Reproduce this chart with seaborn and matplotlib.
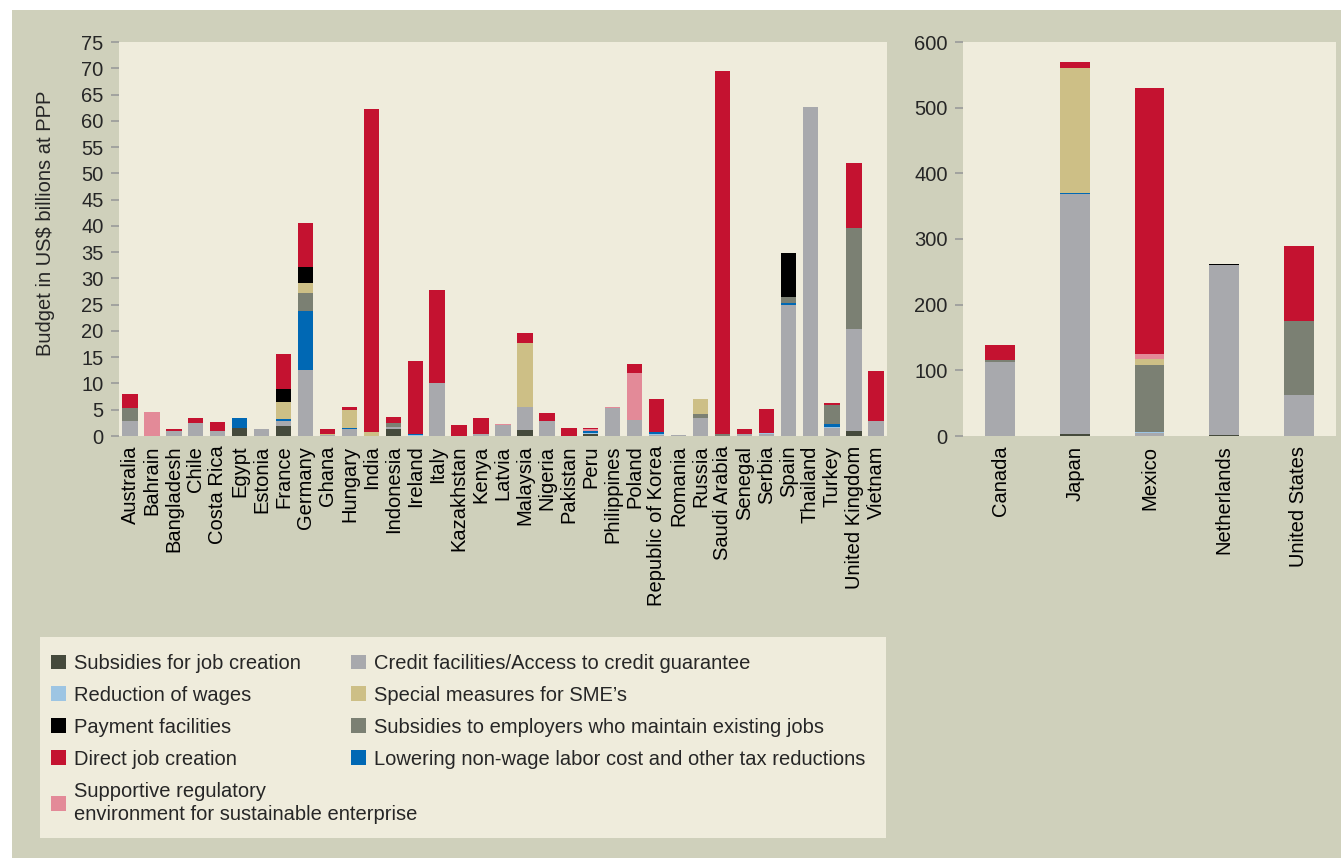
import numpy as np
import matplotlib
matplotlib.use("Agg")
import matplotlib.pyplot as plt
from matplotlib.patches import Patch, Rectangle
import seaborn as sns

# Data: left panel (US$ billions at PPP)
countries = ["Australia", "Bahrain", "Bangladesh", "Chile", "Costa Rica", "Egypt", "Estonia",
             "France", "Germany", "Ghana", "Hungary", "India", "Indonesia", "Ireland", "Italy",
             "Kazakhstan", "Kenya", "Latvia", "Malaysia", "Nigeria", "Pakistan", "Peru",
             "Philippines", "Poland", "Republic of Korea", "Romania", "Russia", "Saudi Arabia",
             "Senegal", "Serbia", "Spain", "Thailand", "Turkey", "United Kingdom", "Vietnam"]

job_subsidies = [0, 0, 0, 0, 0, 1.6, 0, 1.9, 0, 0, 0, 0, 1.4, 0, 0, 0, 0, 0, 1.1, 0, 0, 0.3,
                 0, 0, 0, 0, 0, 0, 0, 0, 0, 0, 0, 1.0, 0]
credit = [2.9, 0, 0.9, 2.5, 0.9, 0, 1.3, 1.0, 12.6, 0.2, 1.4, 0, 0.4, 0, 10.1, 0, 0.4, 2.1, 4.4,
          2.8, 0, 0.1, 5.4, 3.0, 0.2, 0.1, 3.4, 0, 0.3, 0.3, 24.9, 62.7, 1.5, 19.4, 2.9]
wages = [0, 0, 0, 0, 0, 0, 0, 0, 0, 0, 0, 0, 0, 0.2, 0, 0, 0, 0, 0, 0, 0, 0.2,
         0, 0.1, 0.2, 0, 0, 0, 0, 0.2, 0, 0, 0.2, 0, 0]
lowering = [0, 0, 0, 0, 0, 1.8, 0, 0.3, 11.1, 0, 0.2, 0, 0, 0.2, 0, 0, 0, 0, 0, 0, 0, 0.3,
            0, 0, 0.4, 0, 0, 0, 0, 0, 0.5, 0, 0.6, 0, 0]
maintain = [2.4, 0, 0, 0, 0, 0, 0, 0, 3.6, 0, 0, 0, 0.6, 0, 0, 0, 0, 0, 0, 0, 0, 0,
            0, 0, 0, 0, 0.8, 0.3, 0, 0, 1.1, 0, 3.6, 19.1, 0]
sme = [0, 0, 0, 0, 0, 0, 0, 3.3, 1.8, 0.2, 3.3, 0.8, 0, 0, 0, 0, 0, 0, 12.2, 0, 0, 0,
       0, 0, 0, 0, 2.9, 0, 0, 0, 0, 0, 0, 0, 0]
payment = [0, 0, 0, 0, 0, 0, 0, 2.5, 3.0, 0, 0, 0, 0, 0, 0, 0, 0, 0, 0, 0, 0, 0,
           0, 0, 0, 0, 0, 0, 0, 0, 8.3, 0, 0, 0, 0]
supportive = [0, 4.5, 0, 0, 0, 0, 0.1, 0, 0, 0, 0, 0, 0, 0, 0, 0, 0, 0.2, 0, 0, 0, 0.4,
              0.1, 8.9, 0, 0, 0, 0, 0, 0, 0, 0, 0, 0, 0]
direct = [2.6, 0, 0.4, 0.9, 1.7, 0, 0, 6.6, 8.4, 1.0, 0.7, 61.5, 1.3, 13.8, 17.6, 2.1, 3.0, 0,
          2.0, 1.5, 1.6, 0.3, 0, 1.8, 6.2, 0, 0, 69.2, 1.0, 4.7, 0.1, 0, 0.3, 12.4, 9.5]

# Data: right panel
countries2 = ["Canada", "Japan", "Mexico", "Netherlands", "United States"]
job_subsidies2 = [0, 3, 0, 1, 0]
credit2 = [113, 365, 4, 259, 62]
wages2 = [0, 0, 2.5, 0, 0]
lowering2 = [0, 2, 0, 0, 0]
maintain2 = [3, 0, 102, 0, 113]
sme2 = [0, 190, 8, 0, 0]
payment2 = [0, 0, 0, 1.5, 0]
supportive2 = [0, 0, 8, 0, 0]
direct2 = [23, 9, 406, 0, 115]

names = ["Subsidies for job creation", "Credit facilities/Access to credit guarantee",
         "Reduction of wages", "Lowering non-wage labor cost and other tax reductions",
         "Subsidies to employers who maintain existing jobs", "Special measures for SME\u2019s",
         "Payment facilities", "Supportive regulatory\nenvironment for sustainable enterprise",
         "Direct job creation"]
colors = ["#454a3c", "#a8a9ad", "#9dc5e3", "#0068b4", "#7b8073", "#cdbf86",
          "#000000", "#e38a98", "#c41230"]

left_layers = [job_subsidies, credit, wages, lowering, maintain, sme, payment, supportive, direct]
right_layers = [job_subsidies2, credit2, wages2, lowering2, maintain2, sme2, payment2,
                supportive2, direct2]

sns.set_theme(style="white")
plt.rcParams["font.family"] = ["Liberation Sans", "DejaVu Sans"]

fig_bg = "#cfd0bb"
plot_bg = "#efecdc"
tick_col = "#9a9a9a"
fs = 14.5

fig = plt.figure(figsize=(13.41, 8.58), dpi=100)
fig.patch.set_facecolor("white")
fig.patches.append(Rectangle((12 / 1341, 0), 1, 1 - 10 / 858, transform=fig.transFigure,
                             facecolor=fig_bg, edgecolor="none", zorder=-10))

W, H = 1341, 858
ax1 = fig.add_axes([119 / W, 1 - 436 / H, (887 - 119) / W, (436 - 42) / H])
ax2 = fig.add_axes([963 / W, 1 - 436 / H, (1336 - 963) / W, (436 - 42) / H])


def stack(ax, cats, layers, width):
    bottom = np.zeros(len(cats))
    for vals, col in zip(layers, colors):
        sns.barplot(x=cats, y=vals, order=cats, color=col, width=width, bottom=bottom,
                    errorbar=None, linewidth=0, saturation=1, ax=ax)
        bottom = bottom + np.array(vals)


stack(ax1, countries, left_layers, 0.7)
stack(ax2, countries2, right_layers, 0.4)

for ax, cats, top, step in [(ax1, countries, 75, 5), (ax2, countries2, 600, 100)]:
    ax.set_facecolor(plot_bg)
    for s in ax.spines.values():
        s.set_visible(False)
    ax.set_xlim(-0.5, len(cats) - 0.5)
    ax.set_ylim(0, top)
    ax.set_yticks(np.arange(0, top + 1, step))
    ax.set_xticks(np.arange(len(cats)))
    ax.set_xticklabels(cats, rotation=90)
    ax.set_xticks(np.arange(-0.5, len(cats)), minor=True)
    ax.tick_params(axis="x", which="major", length=0, pad=7, labelsize=fs, colors="black")
    ax.tick_params(axis="x", which="minor", length=7, width=1.2, color=tick_col, direction="out")
    ax.tick_params(axis="y", length=6, width=1.2, color=tick_col, pad=5, labelsize=fs,
                   left=True, direction="out")
    ax.set_xlabel("")

ax1.set_ylabel(r"Budget in US\$ billions at PPP", fontsize=fs)
ax1.yaxis.set_label_coords(-0.083, 0.54)

# legend panel
fig.patches.append(Rectangle((40 / W, 1 - 838 / H), 846 / W, 201 / H, transform=fig.transFigure,
                             facecolor=plot_bg, edgecolor="none", zorder=-5))

col1 = [0, 2, 6, 8, 7]
col2 = [1, 5, 4, 3]
for idx, x0 in [(col1, 51), (col2, 351)]:
    handles = [Patch(facecolor=colors[i], edgecolor="none") for i in idx]
    leg = fig.legend(handles, [names[i] for i in idx], loc="upper left",
                     bbox_to_anchor=(x0 / W, 1 - 654 / H), frameon=False, fontsize=fs,
                     borderpad=0, borderaxespad=0, handlelength=0.75, handleheight=0.75,
                     handletextpad=0.4, labelspacing=0.64)
    for t in leg.get_texts():
        t.set_linespacing(1.3)

fig.savefig("out.png", dpi=100, facecolor=fig.get_facecolor())
